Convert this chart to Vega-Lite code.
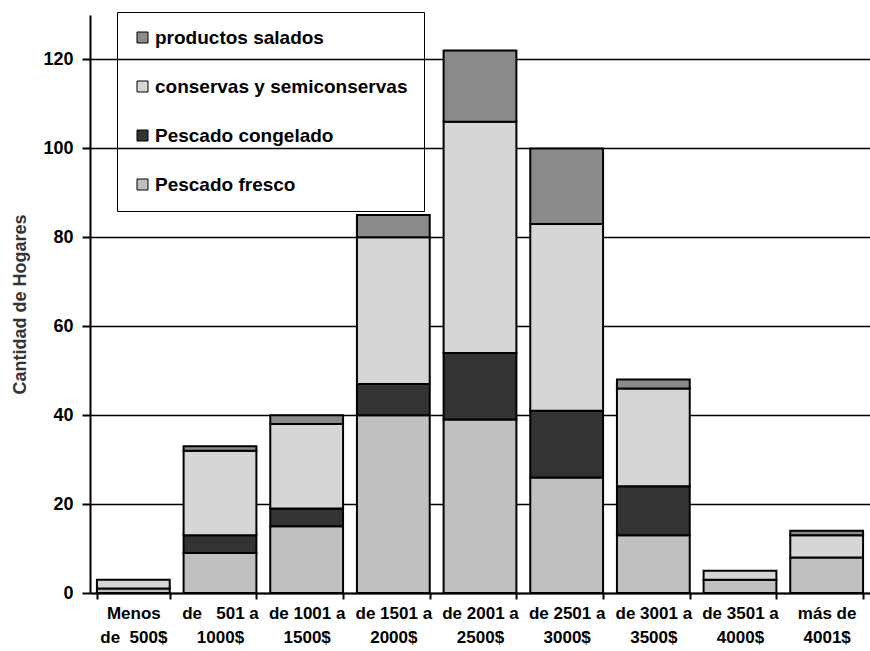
{
  "$schema": "https://vega.github.io/schema/vega-lite/v6.json",
  "width": 780,
  "height": 578,
  "autosize": "none",
  "padding": {"left": 90, "top": 15, "right": 0, "bottom": 58},
  "background": "white",
  "config": {
    "font": "Liberation Sans",
    "view": {"stroke": null},
    "legend": {"strokeColor": "black"}
  },
  "data": {
    "values": [
      {"rango": "Menos|de\u00a0\u00a0500$", "tipo": "Pescado fresco", "orden": 1, "hogares": 1},
      {"rango": "Menos|de\u00a0\u00a0500$", "tipo": "conservas y semiconservas", "orden": 3, "hogares": 2},
      {"rango": "de\u00a0\u00a0\u00a0501 a|1000$", "tipo": "Pescado fresco", "orden": 1, "hogares": 9},
      {"rango": "de\u00a0\u00a0\u00a0501 a|1000$", "tipo": "Pescado congelado", "orden": 2, "hogares": 4},
      {"rango": "de\u00a0\u00a0\u00a0501 a|1000$", "tipo": "conservas y semiconservas", "orden": 3, "hogares": 19},
      {"rango": "de\u00a0\u00a0\u00a0501 a|1000$", "tipo": "productos salados", "orden": 4, "hogares": 1},
      {"rango": "de 1001 a|1500$", "tipo": "Pescado fresco", "orden": 1, "hogares": 15},
      {"rango": "de 1001 a|1500$", "tipo": "Pescado congelado", "orden": 2, "hogares": 4},
      {"rango": "de 1001 a|1500$", "tipo": "conservas y semiconservas", "orden": 3, "hogares": 19},
      {"rango": "de 1001 a|1500$", "tipo": "productos salados", "orden": 4, "hogares": 2},
      {"rango": "de 1501 a|2000$", "tipo": "Pescado fresco", "orden": 1, "hogares": 40},
      {"rango": "de 1501 a|2000$", "tipo": "Pescado congelado", "orden": 2, "hogares": 7},
      {"rango": "de 1501 a|2000$", "tipo": "conservas y semiconservas", "orden": 3, "hogares": 33},
      {"rango": "de 1501 a|2000$", "tipo": "productos salados", "orden": 4, "hogares": 5},
      {"rango": "de 2001 a|2500$", "tipo": "Pescado fresco", "orden": 1, "hogares": 39},
      {"rango": "de 2001 a|2500$", "tipo": "Pescado congelado", "orden": 2, "hogares": 15},
      {"rango": "de 2001 a|2500$", "tipo": "conservas y semiconservas", "orden": 3, "hogares": 52},
      {"rango": "de 2001 a|2500$", "tipo": "productos salados", "orden": 4, "hogares": 16},
      {"rango": "de 2501 a|3000$", "tipo": "Pescado fresco", "orden": 1, "hogares": 26},
      {"rango": "de 2501 a|3000$", "tipo": "Pescado congelado", "orden": 2, "hogares": 15},
      {"rango": "de 2501 a|3000$", "tipo": "conservas y semiconservas", "orden": 3, "hogares": 42},
      {"rango": "de 2501 a|3000$", "tipo": "productos salados", "orden": 4, "hogares": 17},
      {"rango": "de 3001 a|3500$", "tipo": "Pescado fresco", "orden": 1, "hogares": 13},
      {"rango": "de 3001 a|3500$", "tipo": "Pescado congelado", "orden": 2, "hogares": 11},
      {"rango": "de 3001 a|3500$", "tipo": "conservas y semiconservas", "orden": 3, "hogares": 22},
      {"rango": "de 3001 a|3500$", "tipo": "productos salados", "orden": 4, "hogares": 2},
      {"rango": "de 3501 a|4000$", "tipo": "Pescado fresco", "orden": 1, "hogares": 3},
      {"rango": "de 3501 a|4000$", "tipo": "conservas y semiconservas", "orden": 3, "hogares": 2},
      {"rango": "más de|4001$", "tipo": "Pescado fresco", "orden": 1, "hogares": 8},
      {"rango": "más de|4001$", "tipo": "conservas y semiconservas", "orden": 3, "hogares": 5},
      {"rango": "más de|4001$", "tipo": "productos salados", "orden": 4, "hogares": 1}
    ]
  },
  "mark": {"type": "bar", "stroke": "black", "strokeWidth": 2},
  "encoding": {
    "x": {
      "field": "rango",
      "type": "nominal",
      "sort": null,
      "scale": {"paddingInner": 0.16, "paddingOuter": 0.08},
      "axis": {
        "title": null,
        "labelAngle": 0,
        "labelExpr": "split(datum.label, '|')",
        "labelFontSize": 17,
        "labelFontWeight": "bold",
        "labelColor": "black",
        "labelLineHeight": 24,
        "labelPadding": 6,
        "labelLimit": 200,
        "domainColor": "black",
        "domainWidth": 2,
        "tickColor": "black",
        "tickWidth": 2,
        "tickSize": 6,
        "tickBand": "extent"
      }
    },
    "y": {
      "field": "hogares",
      "type": "quantitative",
      "stack": "zero",
      "scale": {"domain": [0, 130], "nice": false},
      "axis": {
        "title": "Cantidad de Hogares",
        "titleFontSize": 18,
        "titleFontWeight": "bold",
        "titleColor": "#333333",
        "titlePadding": 13,
        "values": [0, 20, 40, 60, 80, 100, 120],
        "labelFontSize": 18,
        "labelFontWeight": "bold",
        "labelColor": "black",
        "labelPadding": 9,
        "grid": true,
        "gridColor": "black",
        "gridWidth": 1.5,
        "gridOpacity": 1,
        "domainColor": "black",
        "domainWidth": 2,
        "tickColor": "black",
        "tickWidth": 2,
        "tickSize": 8
      }
    },
    "color": {
      "field": "tipo",
      "type": "nominal",
      "scale": {
        "domain": ["productos salados", "conservas y semiconservas", "Pescado congelado", "Pescado fresco"],
        "range": ["#8a8a8a", "#d6d6d6", "#333333", "#c0c0c0"]
      },
      "legend": {
        "title": null,
        "orient": "none",
        "legendX": 27,
        "legendY": -3,
        "direction": "vertical",
        "symbolType": "square",
        "symbolSize": 121,
        "symbolStrokeColor": "black",
        "symbolStrokeWidth": 1,
        "labelFontSize": 19,
        "labelFontWeight": "bold",
        "labelColor": "black",
        "labelOffset": 3,
        "labelLimit": 400,
        "rowPadding": 29,
        "padding": 16,
        "strokeColor": "black"
      }
    },
    "order": {"field": "orden", "type": "quantitative"}
  }
}
